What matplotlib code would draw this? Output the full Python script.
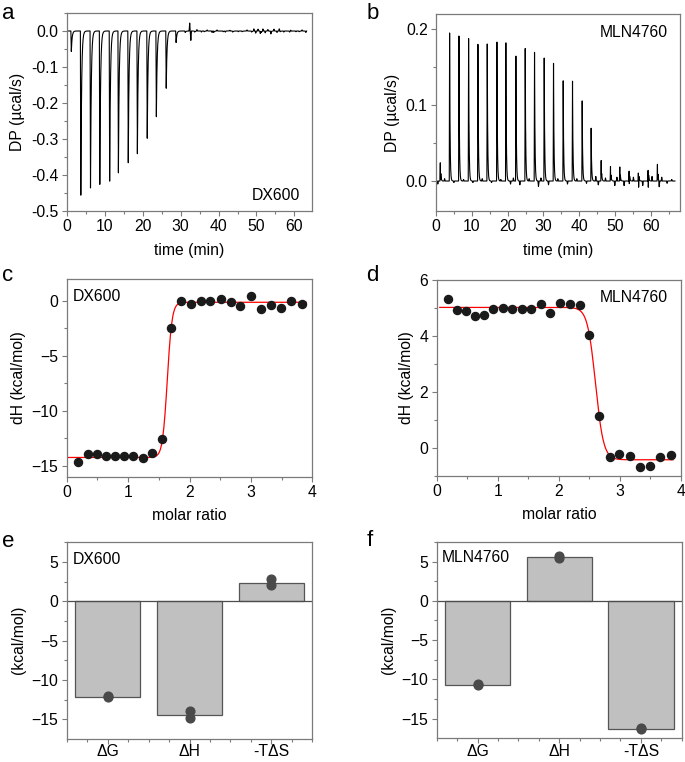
import numpy as np
import matplotlib
matplotlib.use("Agg")
import matplotlib.pyplot as plt
from matplotlib.ticker import MultipleLocator

plt.rcParams['font.family'] = ['Liberation Sans', 'DejaVu Sans']
plt.rcParams['font.size'] = 11

FS = 11.3

# ---------------- data ----------------
# panel a: DX600 raw thermogram (injection times in min, peak heights in µcal/s)
a_inj_times = [1.1, 3.6, 6.15, 8.6, 11.2, 13.5, 16.1, 18.5, 21.1, 23.5, 26.1, 28.7,
               31.1, 33.6, 36.1, 38.6, 41.1, 43.6, 46.1, 48.6, 51.1, 53.6, 56.1, 58.6, 61.1]
a_peaks = [-0.057, -0.456, -0.436, -0.426, -0.417, -0.394, -0.366, -0.341, -0.298,
           -0.238, -0.159, -0.032, -0.004, -0.003, -0.002, -0.004, -0.002, -0.003,
           -0.002, -0.003, -0.004, -0.003, -0.002, -0.003, -0.002]
a_wiggle_t = [32.4, 32.7, 34.3, 35.5, 37.0, 38.3, 39.6, 41.8, 43.0, 45.2, 47.5,
              49.3, 49.8, 50.4, 51.0, 51.7, 52.3, 53.0, 53.8, 54.6, 55.4, 56.0,
              57.2, 59.0, 60.4, 62.0, 63.0]
a_wiggle_v = [0.022, -0.026, 0.004, -0.003, 0.003, -0.004, 0.003, -0.003, 0.002,
              -0.002, 0.003, 0.006, -0.006, 0.005, -0.007, 0.006, -0.005, 0.004,
              -0.006, 0.005, -0.004, 0.006, -0.003, 0.003, -0.002, 0.003, -0.004]

# panel b: MLN4760 raw thermogram
b_inj_times = [1.1, 3.7, 6.3, 9.0, 11.6, 14.2, 16.9, 19.4, 22.2, 24.8, 27.4, 30.1,
               32.7, 35.4, 38.0, 40.7, 43.2, 46.0, 48.6, 51.2, 53.8, 56.4, 59.1, 61.7]
b_peaks = [0.034, 0.196, 0.192, 0.189, 0.181, 0.182, 0.184, 0.184, 0.168, 0.177,
           0.171, 0.166, 0.158, 0.134, 0.136, 0.108, 0.071, 0.034, 0.027, 0.027,
           0.022, 0.021, 0.027, 0.031]
b_dips = [-0.020, -0.002, -0.002, -0.003, -0.002, -0.003, -0.002, -0.004, -0.007,
          -0.005, -0.003, -0.008, -0.006, -0.004, -0.009, -0.005, -0.003, -0.014,
          -0.016, -0.017, -0.018, -0.022, -0.026, -0.018]
b_wiggle_t = [0.5, 2.4, 5.0, 7.7, 10.3, 12.9, 15.5, 18.1, 20.8, 21.6, 23.4, 26.0,
              28.6, 29.3, 31.4, 34.0, 36.7, 39.3, 42.0, 44.6, 45.3, 47.3, 49.9,
              50.5, 52.5, 55.1, 57.7, 60.3, 62.3, 63.0, 64.5, 65.8]
b_wiggle_v = [-0.004, 0.003, -0.002, 0.002, -0.002, 0.003, -0.002, 0.002, -0.004,
              0.004, -0.005, 0.003, -0.007, 0.004, -0.005, 0.003, -0.004, 0.003,
              -0.003, 0.006, -0.005, 0.004, -0.006, 0.005, -0.006, 0.005, -0.006,
              0.006, -0.008, 0.005, -0.003, 0.002]

# panel c: DX600 integrated heats
c_ratio = [0.19, 0.34, 0.49, 0.64, 0.79, 0.93, 1.08, 1.24, 1.39, 1.56, 1.70, 1.86,
           2.02, 2.18, 2.34, 2.51, 2.67, 2.83, 3.00, 3.16, 3.33, 3.49, 3.66, 3.83]
c_dH = [-14.7, -13.95, -13.95, -14.16, -14.16, -14.16, -14.1, -14.3, -13.86, -12.6,
        -2.48, 0.0, -0.24, 0.03, 0.03, 0.15, -0.06, -0.42, 0.45, -0.72, -0.33,
        -0.66, 0.0, -0.3]
c_fit = dict(low=-14.25, high=-0.12, mid=1.638, width=0.039, x0=0.03, x1=3.9)

# panel d: MLN4760 integrated heats
d_ratio = [0.18, 0.33, 0.48, 0.63, 0.78, 0.93, 1.08, 1.23, 1.39, 1.55, 1.70, 1.86,
           2.02, 2.18, 2.34, 2.50, 2.66, 2.83, 2.99, 3.16, 3.33, 3.50, 3.66, 3.84]
d_dH = [5.32, 4.93, 4.90, 4.70, 4.75, 4.96, 5.01, 4.96, 4.96, 4.96, 5.15, 4.81,
        5.18, 5.15, 5.11, 4.03, 1.12, -0.32, -0.23, -0.29, -0.68, -0.64, -0.34, -0.26]
d_fit = dict(low=-0.43, high=5.02, mid=2.60, width=0.066, x0=0.05, x1=3.87)

# panels e, f: thermodynamic signatures
sig_labels = ['ΔG', 'ΔH', '-TΔS']
e_bars = [-12.15, -14.47, 2.32]
e_reps = [[-12.06, -12.22], [-13.96, -14.90], [2.83, 2.03]]
f_bars = [-10.66, 5.63, -16.25]
f_reps = [[-10.62, -10.70], [5.76, 5.43], [-16.15, -16.30]]

# ---------------- helpers ----------------
def thermogram(t, times, amps, rise=0.12, tau=0.22):
    y = np.zeros_like(t)
    for t0, A in zip(times, amps):
        dt = t - t0
        up = (dt >= 0) & (dt < rise)
        y[up] += A * dt[up] / rise
        dn = dt >= rise
        y[dn] += A * np.exp(-(dt[dn] - rise) / tau)
    return y

def spikes(t, times, amps, hw=0.12):
    y = np.zeros_like(t)
    for t0, A in zip(times, amps):
        y += A * np.clip(1 - np.abs(t - t0) / hw, 0, None)
    return y

def sigmoid(x, p, decreasing=False):
    s = -1 if decreasing else 1
    return p['low'] + (p['high'] - p['low']) / (1 + np.exp(-s * (x - p['mid']) / p['width']))

SPINE = '#7a7a7a'
W, H = 685, 762

def make_ax(fig, l, r, t, b):
    ax = fig.add_axes([l / W, 1 - b / H, (r - l) / W, (b - t) / H])
    for s in ax.spines.values():
        s.set_color(SPINE)
        s.set_linewidth(0.9)
    ax.tick_params(which='both', direction='out', color=SPINE, labelsize=FS,
                   labelcolor='black', top=False, right=False, pad=2.5)
    ax.tick_params(which='major', length=3.5, width=0.8)
    ax.tick_params(which='minor', length=2.2, width=0.8)
    return ax

fig = plt.figure(figsize=(W / 100, H / 100), dpi=100)

# ---------------- panel a ----------------
ax = make_ax(fig, 66.7, 312.3, 13, 211)
ta = np.arange(0, 63.2, 0.01)
ya = thermogram(ta, a_inj_times, a_peaks, tau=0.2) + spikes(ta, a_wiggle_t, a_wiggle_v, 0.15)
ax.plot(ta, ya, color='black', lw=0.8)
ax.set_xlim(0, 64.7)
ax.set_ylim(-0.5, 0.05)
ax.xaxis.set_major_locator(MultipleLocator(10))
ax.xaxis.set_minor_locator(MultipleLocator(5))
ax.yaxis.set_major_locator(MultipleLocator(0.1))
ax.yaxis.set_minor_locator(MultipleLocator(0.05))
ax.yaxis.set_major_formatter(matplotlib.ticker.FormatStrFormatter('%.1f'))
ax.set_xlabel('time (min)', fontsize=FS, labelpad=6)
ax.set_ylabel('DP (µcal/s)', fontsize=FS, labelpad=4)
ax.text(0.95, 0.04, 'DX600', transform=ax.transAxes, ha='right', va='bottom', fontsize=FS)

# ---------------- panel b ----------------
ax = make_ax(fig, 436, 680, 14, 211)
tb = np.arange(0, 66.7, 0.01)
yb = (thermogram(tb, b_inj_times, b_peaks, rise=0.1, tau=0.12)
      + spikes(tb, np.array(b_inj_times) + 0.15, b_dips, 0.1)
      + spikes(tb, b_wiggle_t, b_wiggle_v, 0.15))
ax.plot(tb, yb, color='black', lw=0.8)
ax.set_xlim(0, 68.1)
ax.set_ylim(-0.0395, 0.22)
ax.xaxis.set_major_locator(MultipleLocator(10))
ax.xaxis.set_minor_locator(MultipleLocator(5))
ax.yaxis.set_major_locator(MultipleLocator(0.1))
ax.yaxis.set_minor_locator(MultipleLocator(0.05))
ax.yaxis.set_major_formatter(matplotlib.ticker.FormatStrFormatter('%.1f'))
ax.set_xlabel('time (min)', fontsize=FS, labelpad=6)
ax.set_ylabel('DP (µcal/s)', fontsize=FS, labelpad=4)
ax.text(0.95, 0.944, 'MLN4760', transform=ax.transAxes, ha='right', va='top', fontsize=FS)

# ---------------- panel c ----------------
ax = make_ax(fig, 66.7, 312.3, 279, 476.7)
xc = np.linspace(c_fit['x0'], c_fit['x1'], 400)
ax.plot(xc, sigmoid(xc, c_fit), color='red', lw=0.9)
ax.plot(c_ratio, c_dH, 'o', color='#1a1a1a', ms=5.8, mec='#1a1a1a')
ax.set_xlim(0, 4)
ax.set_ylim(-16, 2)
ax.xaxis.set_major_locator(MultipleLocator(1))
ax.xaxis.set_minor_locator(MultipleLocator(0.5))
ax.yaxis.set_major_locator(MultipleLocator(5))
ax.yaxis.set_minor_locator(MultipleLocator(2.5))
ax.set_xlabel('molar ratio', fontsize=FS, labelpad=6)
ax.set_ylabel('dH (kcal/mol)', fontsize=FS, labelpad=4)
ax.text(0.025, 0.95, 'DX600', transform=ax.transAxes, ha='left', va='top', fontsize=FS)

# ---------------- panel d ----------------
ax = make_ax(fig, 436.7, 681, 280, 475.7)
xd = np.linspace(d_fit['x0'], d_fit['x1'], 400)
ax.plot(xd, sigmoid(xd, d_fit, decreasing=True), color='red', lw=0.9)
ax.plot(d_ratio, d_dH, 'o', color='#1a1a1a', ms=5.8, mec='#1a1a1a')
ax.set_xlim(0, 4)
ax.set_ylim(-1, 6)
ax.xaxis.set_major_locator(MultipleLocator(1))
ax.xaxis.set_minor_locator(MultipleLocator(0.5))
ax.yaxis.set_major_locator(MultipleLocator(2))
ax.yaxis.set_minor_locator(MultipleLocator(1))
ax.set_xlabel('molar ratio', fontsize=FS, labelpad=6)
ax.set_ylabel('dH (kcal/mol)', fontsize=FS, labelpad=4)
ax.text(0.947, 0.95, 'MLN4760', transform=ax.transAxes, ha='right', va='top', fontsize=FS)

# ---------------- panels e, f ----------------
def sig_panel(ax, bars, reps, name, xt, yt):
    pos = np.arange(1, len(bars) + 1)
    ax.bar(pos, bars, width=0.8, color='#c0c0c0', edgecolor='#555555', linewidth=0.9, zorder=2)
    for p, rr in zip(pos, reps):
        ax.plot([p] * len(rr), rr, 'o', color='#4a4a4a', ms=6.3, zorder=3)
    ax.axhline(0, color='#4d4d4d', lw=0.9, zorder=2.5)
    ax.set_xlim(0.5, 3.5)
    ax.set_ylim(-17.45, 7.55)
    ax.set_xticks(pos)
    ax.set_xticklabels(sig_labels, fontsize=FS)
    ax.tick_params(axis='x', pad=0.5)
    ax.xaxis.set_minor_locator(MultipleLocator(0.25))
    ax.yaxis.set_major_locator(MultipleLocator(5))
    ax.yaxis.set_minor_locator(MultipleLocator(2.5))
    ax.set_ylabel('(kcal/mol)', fontsize=FS, labelpad=4)
    ax.text(xt, yt, name, transform=ax.transAxes, ha='left', va='top', fontsize=FS)

ax = make_ax(fig, 66.7, 312.3, 542, 738.5)
sig_panel(ax, e_bars, e_reps, 'DX600', 0.025, 0.95)
ax = make_ax(fig, 436.7, 681.7, 541.5, 738)
sig_panel(ax, f_bars, f_reps, 'MLN4760', 0.02, 0.955)

# ---------------- panel letters ----------------
for letter, x, y in [('a', 2, 3), ('b', 367, 3), ('c', 2, 265), ('d', 366, 265),
                     ('e', 2, 531), ('f', 367, 530)]:
    fig.text(x / W, 1 - y / H, letter, ha='left', va='top', fontsize=16)

fig.savefig('out.png', dpi=100)
